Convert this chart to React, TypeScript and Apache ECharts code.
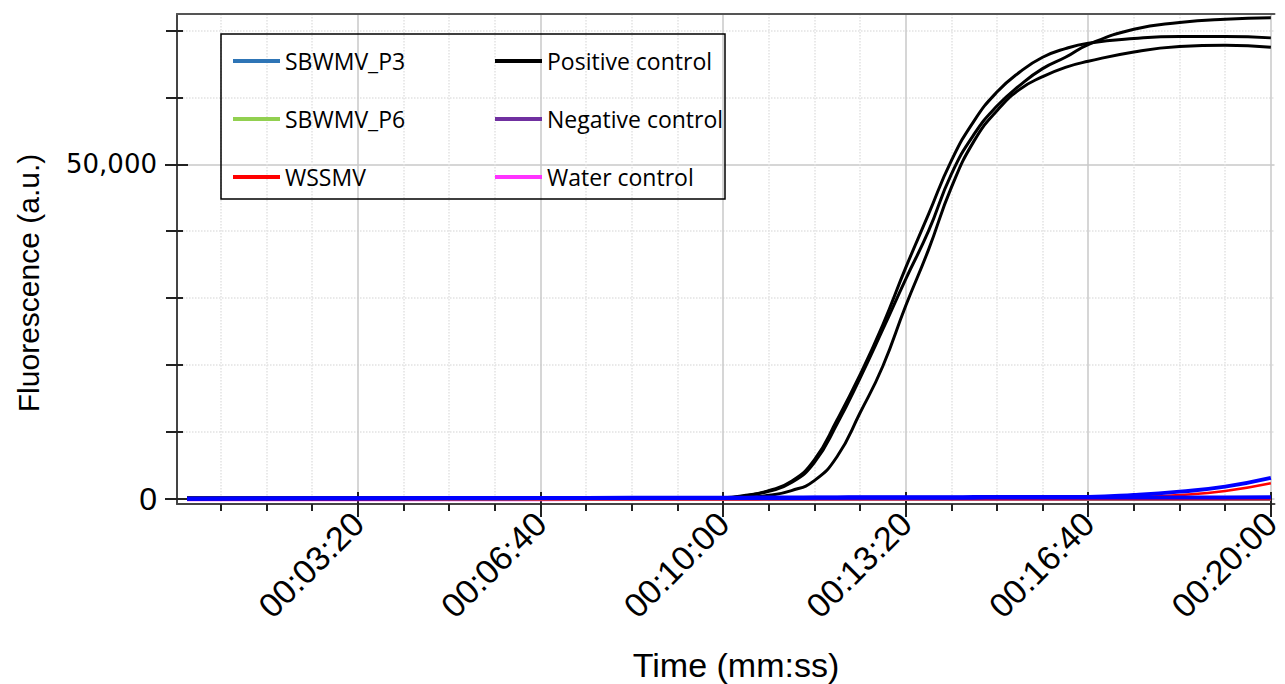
import React, { useEffect, useRef } from "react";
import * as echarts from "echarts";

// Time points (s)
const T = [13, 100, 200, 300, 400, 500, 600, 625, 650, 675, 700, 725, 750, 775, 800, 825, 850, 875, 900, 925, 950, 975, 1000, 1050, 1100, 1150, 1200];

// Positive control replicates (a.u.)
const posA = [100, 100, 100, 110, 120, 130, 150, 500, 1200, 2600, 5800, 11800, 18500, 26000, 34500, 42500, 50500, 56500, 60800, 63800, 66000, 67300, 68100, 68800, 69100, 69100, 68900];
const posB = [100, 100, 100, 110, 120, 130, 120, 450, 1100, 2400, 5400, 11200, 18000, 25300, 32800, 40000, 48500, 54500, 58700, 61800, 64300, 66000, 67900, 70200, 71200, 71700, 71900];
const posC = [60, 60, 60, 70, 80, 90, 60, 200, 500, 1200, 2700, 6300, 12800, 19800, 28800, 37200, 46500, 53500, 58000, 61200, 63100, 64500, 65400, 66800, 67600, 67800, 67500];

// SBWMV_P3 replicates
const p3A = [0, 30, 60, 80, 100, 120, 140, 150, 160, 170, 180, 190, 200, 210, 210, 220, 220, 230, 230, 240, 240, 250, 260, 550, 1050, 1800, 3100];
const p3B = [0, 20, 40, 60, 80, 90, 100, 100, 110, 110, 120, 120, 130, 130, 140, 140, 150, 150, 160, 160, 170, 170, 180, 180, 190, 190, 200];
// SBWMV_P6 replicates
const p6A = [-150, -150, -140, -140, -130, -130, -120, -120, -120, -120, -120, -120, -120, -120, -120, -120, -120, -120, -120, -120, -120, -120, -120, -120, -130, -140, -150];
const p6B = [-200, -200, -190, -190, -180, -180, -180, -180, -180, -180, -180, -180, -180, -180, -180, -180, -180, -180, -180, -180, -180, -180, -190, -190, -200, -200, -200];
// WSSMV replicates
const wsA = [-100, -90, -80, -70, -60, -50, -40, -40, -30, -30, -30, -20, -20, -20, -10, -10, 0, 0, 10, 20, 30, 40, 50, 250, 550, 1150, 2300];
const wsB = [-150, -150, -150, -140, -140, -140, -130, -130, -130, -130, -130, -130, -130, -130, -130, -130, -130, -130, -130, -130, -130, -130, -130, -130, -130, -130, -130];
// Negative control
const negV = [-100, -100, -90, -90, -80, -80, -80, -80, -80, -80, -80, -80, -80, -80, -80, -80, -80, -80, -80, -80, -80, -80, -80, -80, -80, -80, -80];
// Water control
const watV = [-270, -270, -260, -260, -260, -250, -250, -250, -250, -250, -250, -250, -250, -250, -250, -250, -250, -250, -250, -250, -250, -250, -250, -250, -250, -250, -250];

// Axis ticks
const MAJOR_X = [200, 400, 600, 800, 1000, 1200];
const MINOR_X = [50, 100, 150, 250, 300, 350, 450, 500, 550, 650, 700, 750, 850, 900, 950, 1050, 1100, 1150];
const MAJOR_Y = [0, 50000];
const MINOR_Y = [10000, 20000, 30000, 40000, 60000, 70000];

const legendLeft = ["SBWMV_P3", "SBWMV_P6", "WSSMV"];
const legendRight = ["Positive control", "Negative control", "Water control"];
const legendColors: Record<string, string> = {
  SBWMV_P3: "#2e75b6",
  SBWMV_P6: "#92d050",
  WSSMV: "#ff0000",
  "Positive control": "#000000",
  "Negative control": "#7030a0",
  "Water control": "#ff33ff",
};

const pair = (vals: number[]) => T.map((t, i) => [t, vals[i]]);

function fmtTime(v: number) {
  const m = Math.floor(v / 60);
  const s = Math.round(v % 60);
  const p = (n: number) => (n < 10 ? "0" + n : "" + n);
  return "00:" + p(m) + ":" + p(s);
}

export default function App() {
  const ref = useRef<HTMLDivElement>(null);
  useEffect(() => {
    if (!ref.current) return;
    const chart = echarts.init(ref.current, null, { renderer: "svg" });
    const xBase = { type: "value", min: 2, max: 1204, gridIndex: 0 };
    const yBase = { type: "value", min: -800, max: 72470, gridIndex: 0 };
    const tickCol = "#222";
    const mkSeries = (name: string, vals: number[], color: string, width: number) => ({
      type: "line",
      name,
      data: pair(vals),
      smooth: true,
      symbol: "none",
      showSymbol: false,
      xAxisIndex: 0,
      yAxisIndex: 0,
      lineStyle: { color, width },
      itemStyle: { color },
      emphasis: { disabled: true },
    });
    const legendBase = {
      orient: "vertical",
      itemWidth: 47,
      itemHeight: 4,
      itemGap: 34,
      icon: "rect",
      padding: 0,
      selectedMode: false,
      textStyle: { fontFamily: "Open Sans", fontSize: 23, color: "#000", lineHeight: 24 },
    };
    const legendData = (names: string[]) =>
      names.map((n) => ({ name: n, itemStyle: { color: legendColors[n], borderWidth: 0 } }));

    chart.setOption({
      animation: false,
      backgroundColor: "#fff",
      grid: { left: 177, right: 0, top: 14, bottom: 180, containLabel: false },
      xAxis: [
        {
          ...xBase,
          position: "bottom",
          axisLine: { show: true, onZero: false, lineStyle: { color: "#444", width: 2 } },
          axisTick: { show: true, customValues: MAJOR_X, length: 13, lineStyle: { color: tickCol, width: 2 } },
          axisLabel: {
            show: true,
            customValues: MAJOR_X,
            formatter: (v: number) => fmtTime(v),
            rotate: 45,
            margin: 14,
            fontSize: 34,
            fontFamily: "Liberation Sans",
            color: "#000",
          },
          splitLine: { show: true, lineStyle: { color: "#c8c8c8", width: 1.5 } },
        },
        {
          ...xBase,
          position: "bottom",
          axisLine: { show: false, onZero: false },
          axisTick: { show: true, inside: true, customValues: MAJOR_X, length: 12, lineStyle: { color: tickCol, width: 2 } },
          axisLabel: { show: false },
          splitLine: { show: false },
        },
        {
          ...xBase,
          position: "bottom",
          axisLine: { show: false, onZero: false },
          axisTick: { show: true, customValues: MINOR_X, length: 7, lineStyle: { color: tickCol, width: 2 } },
          axisLabel: { show: false },
          splitLine: { show: true, lineStyle: { color: "#e2e2e2", width: 1.5, type: "dotted" } },
        },
        {
          ...xBase,
          position: "top",
          axisLine: { show: true, onZero: false, lineStyle: { color: "#555", width: 2 } },
          axisTick: { show: false },
          axisLabel: { show: false },
          splitLine: { show: false },
        },
      ],
      yAxis: [
        {
          ...yBase,
          position: "left",
          axisLine: { show: true, onZero: false, lineStyle: { color: "#444", width: 2 } },
          axisTick: { show: true, customValues: MAJOR_Y, length: 12, lineStyle: { color: tickCol, width: 2 } },
          axisLabel: {
            show: true,
            customValues: MAJOR_Y,
            margin: 20,
            formatter: (v: number) => (v === 0 ? "{b|0}" : "{a|50,000}"),
            rich: {
              a: { fontFamily: "DejaVu Sans", fontSize: 26, color: "#000" },
              b: { fontFamily: "Liberation Sans", fontSize: 32, color: "#000" },
            },
          },
          splitLine: { show: true, lineStyle: { color: "#c8c8c8", width: 1.5 } },
        },
        {
          ...yBase,
          position: "left",
          axisLine: { show: false, onZero: false },
          axisTick: { show: true, inside: true, customValues: MAJOR_Y, length: 11, lineStyle: { color: tickCol, width: 2 } },
          axisLabel: { show: false },
          splitLine: { show: false },
        },
        {
          ...yBase,
          position: "left",
          axisLine: { show: false, onZero: false },
          axisTick: { show: true, customValues: MINOR_Y, length: 11, lineStyle: { color: tickCol, width: 2 } },
          axisLabel: { show: false },
          splitLine: { show: true, lineStyle: { color: "#e2e2e2", width: 1.5, type: "dotted" } },
        },
        {
          ...yBase,
          position: "left",
          axisLine: { show: false, onZero: false },
          axisTick: { show: true, inside: true, customValues: MINOR_Y, length: 6, lineStyle: { color: tickCol, width: 2 } },
          axisLabel: { show: false },
          splitLine: { show: false },
        },
      ],
      legend: [
        { ...legendBase, left: 233, top: 49, data: legendData(legendLeft) },
        { ...legendBase, left: 495, top: 49, data: legendData(legendRight) },
      ],
      graphic: [
        {
          type: "rect",
          silent: true,
          z: 10,
          shape: { x: 221, y: 34, width: 504, height: 165 },
          style: { fill: "none", stroke: "#000", lineWidth: 1.5 },
        },
        {
          type: "text",
          silent: true,
          x: 28,
          y: 283,
          rotation: Math.PI / 2,
          style: {
            text: "Fluorescence (a.u.)",
            fontFamily: "Liberation Sans",
            fontSize: 30,
            fill: "#000",
            align: "center",
            verticalAlign: "middle",
          },
        },
        {
          type: "text",
          silent: true,
          x: 736,
          y: 665,
          style: {
            text: "Time (mm:ss)",
            fontFamily: "Liberation Sans",
            fontSize: 34,
            fill: "#000",
            align: "center",
            verticalAlign: "middle",
          },
        },
      ],
      series: [
        mkSeries("Positive control", posA, "#000000", 3),
        mkSeries("Positive control", posB, "#000000", 3),
        mkSeries("Positive control", posC, "#000000", 3),
        mkSeries("Water control", watV, "#ff33ff", 1.5),
        mkSeries("Negative control", negV, "#7030a0", 1.5),
        mkSeries("SBWMV_P6", p6A, "#2ec4b6", 1.5),
        mkSeries("SBWMV_P6", p6B, "#2ec4b6", 1.5),
        mkSeries("WSSMV", wsB, "#ff0000", 2),
        mkSeries("WSSMV", wsA, "#ff0000", 2.5),
        mkSeries("SBWMV_P3", p3B, "#0000ff", 4),
        mkSeries("SBWMV_P3", p3A, "#0000ff", 4),
      ],
    });
    return () => chart.dispose();
  }, []);
  return (
    <div
      ref={ref}
      style={{ position: "absolute", left: 0, top: 0, width: 1285, height: 684 }}
    />
  );
}
